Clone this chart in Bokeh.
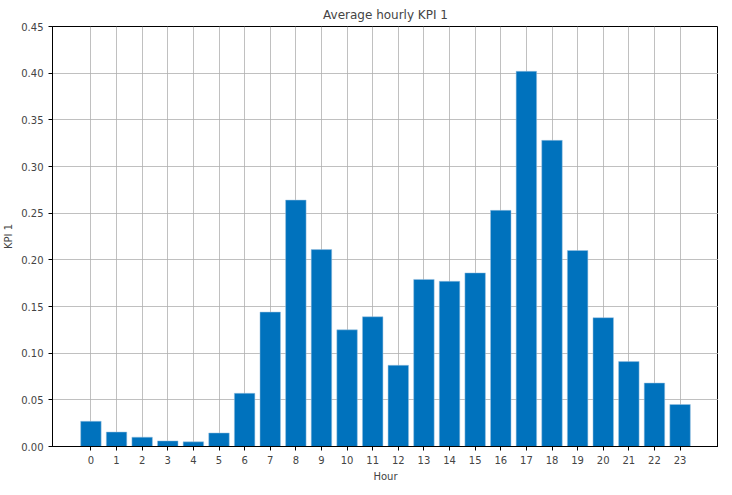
from bokeh.plotting import figure
from bokeh.models import FixedTicker, Range1d, NumeralTickFormatter
from bokeh.embed import file_html
from bokeh.resources import INLINE

hours = list(range(24))
kpi = [0.027, 0.0155, 0.010, 0.006, 0.005, 0.0145, 0.057, 0.144, 0.264, 0.211,
       0.125, 0.139, 0.087, 0.179, 0.177, 0.186, 0.253, 0.402, 0.328, 0.210,
       0.138, 0.091, 0.068, 0.045]

p = figure(width=718, height=484, title="Average hourly KPI 1",
           output_backend="svg", toolbar_location=None,
           x_range=Range1d(-1.5, 24.5), y_range=Range1d(0, 0.45),
           min_border_left=0, min_border_right=0, min_border_top=0, min_border_bottom=0)
p.title.align = "center"
p.title.text_font = "DejaVu Sans"
p.title.text_font_style = "normal"
p.title.text_font_size = "12px"

p.vbar(x=hours, top=kpi, width=0.8, fill_color="#0072bd", line_color="#9cc3e0", line_width=0.5)

p.xaxis.ticker = FixedTicker(ticks=hours)
p.yaxis.ticker = FixedTicker(ticks=[i * 0.05 for i in range(10)])
p.yaxis.formatter = NumeralTickFormatter(format="0.00")
p.xaxis.axis_label = "Hour"
p.yaxis.axis_label = "KPI 1"
for ax in (p.xaxis, p.yaxis):
    ax.axis_label_text_font = "DejaVu Sans"
    ax.axis_label_text_font_style = "normal"
    ax.axis_label_text_font_size = "10px"
    ax.major_label_text_font = "DejaVu Sans"
    ax.major_label_text_font_size = "10px"
    ax.minor_tick_line_color = None
    ax.major_tick_out = 4
    ax.major_tick_in = 0
    ax.axis_line_color = "black"
    ax.axis_label_standoff = 4

p.grid.grid_line_color = "#b0b0b0"
p.grid.grid_line_width = 0.8
p.outline_line_color = "black"
p.outline_line_alpha = 1

open("out.html", "w").write(file_html(p, INLINE))
